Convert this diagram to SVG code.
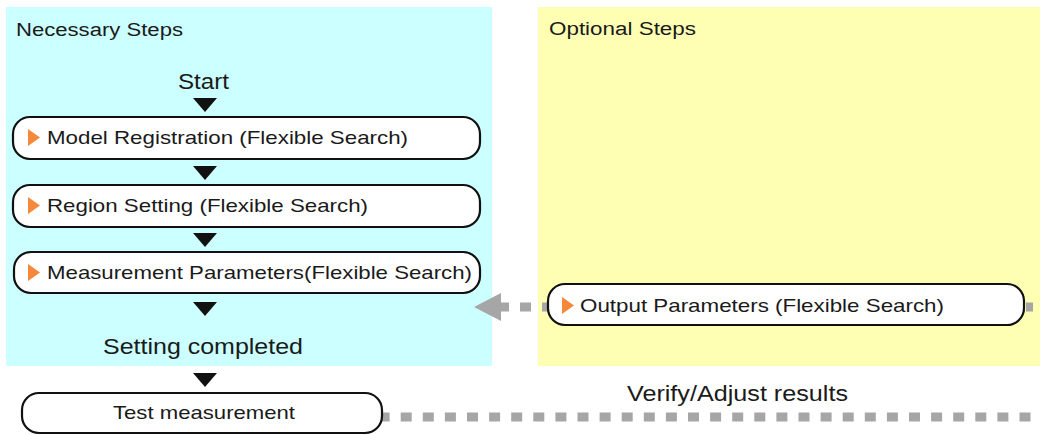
<svg xmlns="http://www.w3.org/2000/svg" width="1040" height="435" viewBox="0 0 1040 435">
<style>
text{font-family:"Liberation Sans",Arial,sans-serif;fill:#1a1a1a}
.hdr{font-size:18px}
.big{font-size:22px}
.bt{font-size:19px}
.box{fill:#fff;stroke:#111;stroke-width:2.2}
.tri{fill:#111}
.mk{fill:#f5883a}
.dash{fill:none;stroke:#a6a6a6;stroke-width:9;stroke-dasharray:11 11}
</style>
<rect x="0" y="0" width="1040" height="435" fill="#fff"/>
<g id="panel-necessary">
<rect x="6" y="7" width="486" height="359" fill="#ccffff"/>
<text class="hdr" x="16" y="36" textLength="167" lengthAdjust="spacingAndGlyphs">Necessary Steps</text>
</g>
<g id="panel-optional">
<rect x="538" y="7" width="502" height="359" fill="#ffffb4"/>
<text class="hdr" x="549" y="35" textLength="147" lengthAdjust="spacingAndGlyphs">Optional Steps</text>
</g>
<g id="connectors">
<polygon class="tri" points="193,98 217,98 205,112"/>
<polygon class="tri" points="193,166 217,166 205,180"/>
<polygon class="tri" points="193,233 217,233 205,247"/>
<polygon class="tri" points="193,302 217,302 205,316"/>
<polygon class="tri" points="193,373 217,373 205,387"/>
<line class="dash" x1="498" y1="307" x2="1033" y2="307"/>
<polygon points="474,307 501,293 501,321" fill="#a6a6a6"/>
<line class="dash" x1="378.6" y1="417" x2="1040" y2="417" style="stroke-dasharray:11 11.1"/>
</g>
<g id="start">
<text class="big" x="178" y="89" textLength="51" lengthAdjust="spacingAndGlyphs">Start</text>
</g>
<g id="model-registration">
<rect class="box" x="13" y="117" width="467" height="42" rx="17"/>
<polygon class="mk" points="28,129 40,137.5 28,146"/>
<text class="bt" x="47" y="144" textLength="361" lengthAdjust="spacingAndGlyphs">Model Registration (Flexible Search)</text>
</g>
<g id="region-setting">
<rect class="box" x="13" y="185" width="467" height="42" rx="17"/>
<polygon class="mk" points="28,197 40,205.5 28,214"/>
<text class="bt" x="47" y="212" textLength="321" lengthAdjust="spacingAndGlyphs">Region Setting (Flexible Search)</text>
</g>
<g id="measurement-parameters">
<rect class="box" x="14" y="252" width="466" height="41" rx="17"/>
<polygon class="mk" points="28,264 40,272.5 28,281"/>
<text class="bt" x="47" y="279" textLength="425" lengthAdjust="spacingAndGlyphs">Measurement Parameters(Flexible Search)</text>
</g>
<g id="setting-completed">
<text class="big" x="103" y="354" textLength="200" lengthAdjust="spacingAndGlyphs">Setting completed</text>
</g>
<g id="test-measurement">
<rect class="box" x="22" y="393" width="360" height="40" rx="17"/>
<text class="bt" x="113" y="419" textLength="182" lengthAdjust="spacingAndGlyphs">Test measurement</text>
</g>
<g id="output-parameters">
<rect class="box" x="548" y="284" width="476" height="41" rx="17"/>
<polygon class="mk" points="562,297 574,305.5 562,314"/>
<text class="bt" x="580" y="312" textLength="364" lengthAdjust="spacingAndGlyphs">Output Parameters (Flexible Search)</text>
</g>
<g id="verify-adjust">
<text class="big" x="627" y="401" textLength="221" lengthAdjust="spacingAndGlyphs">Verify/Adjust results</text>
</g>
</svg>
